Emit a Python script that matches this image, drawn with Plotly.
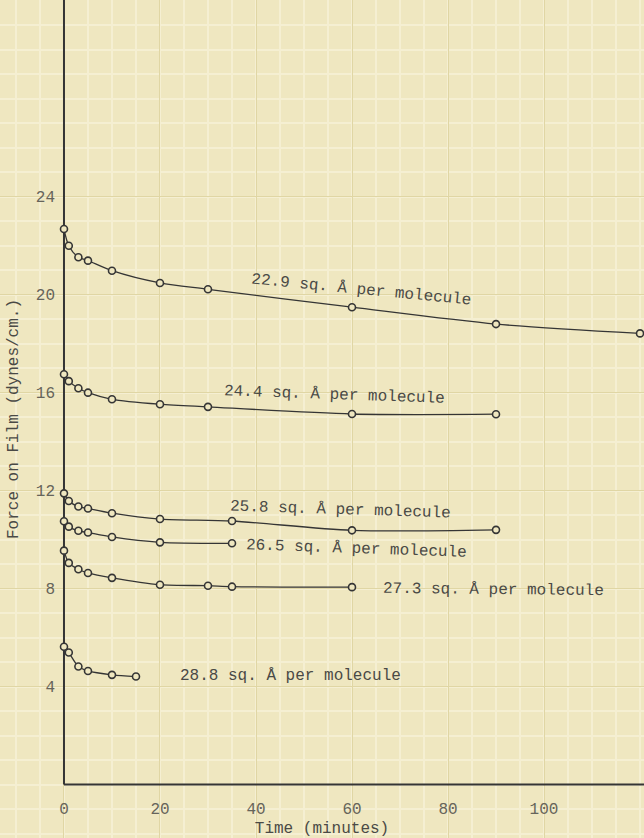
import plotly.graph_objects as go

# ---- data ----
time_229 = [0, 1, 3, 5, 10, 20, 30, 60, 90, 120]
force_229 = [22.68, 22.0, 21.53, 21.39, 20.98, 20.48, 20.22, 19.49, 18.80, 18.42]

time_244 = [0, 1, 3, 5, 10, 20, 30, 60, 90]
force_244 = [16.75, 16.47, 16.18, 16.00, 15.73, 15.53, 15.42, 15.13, 15.12]

time_258 = [0, 1, 3, 5, 10, 20, 35, 60, 90]
force_258 = [11.89, 11.58, 11.35, 11.27, 11.08, 10.84, 10.76, 10.38, 10.40]

time_265 = [0, 1, 3, 5, 10, 20, 35]
force_265 = [10.75, 10.53, 10.36, 10.29, 10.11, 9.89, 9.85]

time_273 = [0, 1, 3, 5, 10, 20, 30, 35, 60]
force_273 = [9.55, 9.05, 8.79, 8.64, 8.44, 8.16, 8.12, 8.08, 8.06]

time_288 = [0, 1, 3, 5, 10, 15]
force_288 = [5.63, 5.39, 4.82, 4.64, 4.48, 4.41]

series_labels = [
    "22.9 sq. Å per molecule",
    "24.4 sq. Å per molecule",
    "25.8 sq. Å per molecule",
    "26.5 sq. Å per molecule",
    "27.3 sq. Å per molecule",
    "28.8 sq. Å per molecule",
]

x_ticks = [0, 20, 40, 60, 80, 100]
x_tick_labels = ["0", "20", "40", "60", "80", "100"]
y_ticks = [4, 8, 12, 16, 20, 24]
y_tick_labels = ["4", "8", "12", "16", "20", "24"]

x_title = "Time (minutes)"
y_title = "Force on Film (dynes/cm.)"

# ---- styling ----
BG = "#efe7c0"
MINOR = "#f5efd2"
MAJOR = "#e0d6a4"
INK = "#353535"
TEXT = "#4a4a46"
TICK = "#66645a"
MONO = "Liberation Mono, Courier New, monospace"

series = [
    (time_229, force_229),
    (time_244, force_244),
    (time_258, force_258),
    (time_265, force_265),
    (time_273, force_273),
    (time_288, force_288),
]

# label placement (x in minutes, y in dynes/cm) and tilt of the typed text
label_pos = [(61.9, 20.2), (56.4, 15.9), (57.5, 11.2), (61.0, 9.62), (89.4, 7.95), (47.1, 4.43)]
label_tilt = [5.5, 2.0, 1.8, 2.0, 0.6, 0.0]

fig = go.Figure()
for (t, f), name in zip(series, series_labels):
    fig.add_trace(go.Scatter(
        x=t, y=f, mode="lines+markers", name=name,
        line=dict(color=INK, width=1.3, shape="spline", smoothing=0.8),
        marker=dict(symbol="circle", size=7, color=BG, line=dict(color=INK, width=1.6)),
        cliponaxis=False,
    ))

for name, (lx, ly), ang in zip(series_labels, label_pos, label_tilt):
    fig.add_annotation(x=lx, y=ly, xref="x", yref="y", text=name, showarrow=False,
                       textangle=ang, font=dict(family=MONO, size=16, color=TEXT))

X_MIN, X_MAX = -13.33, 120.83
Y_MIN, Y_MAX = -2.18, 32.03

# axis lines (only in the positive quadrant, as drawn on the sheet)
fig.add_shape(type="line", x0=0, x1=0, y0=0, y1=Y_MAX + 1, xref="x", yref="y",
              line=dict(color=INK, width=2), layer="between")
fig.add_shape(type="line", x0=0, x1=X_MAX + 1, y0=0, y1=0, xref="x", yref="y",
              line=dict(color=INK, width=2), layer="between")

fig.update_layout(
    width=644, height=838,
    margin=dict(l=0, r=0, t=0, b=0),
    paper_bgcolor=BG, plot_bgcolor=BG,
    showlegend=False,
    font=dict(family=MONO, color=TEXT),
)

fig.update_xaxes(
    range=[X_MIN, X_MAX], domain=[0, 1],
    anchor="free", position=(838 - 784.7) / 838,
    tickmode="array", tickvals=x_ticks, ticktext=x_tick_labels,
    ticks="", ticklabelstandoff=12,
    tickfont=dict(family=MONO, size=16, color=TICK),
    showgrid=True, gridcolor=MAJOR, gridwidth=1,
    minor=dict(tick0=0, dtick=5, showgrid=True, gridcolor=MINOR, gridwidth=1.6),
    zeroline=False, showline=False, automargin=False,
    title=dict(text=x_title, font=dict(family=MONO, size=16, color=TEXT), standoff=5),
)
fig.update_yaxes(
    range=[Y_MIN, Y_MAX], domain=[0, 1],
    anchor="free", position=64 / 644,
    tickmode="array", tickvals=y_ticks, ticktext=y_tick_labels,
    ticks="", ticklabelstandoff=9,
    tickfont=dict(family=MONO, size=16, color=TICK),
    showgrid=True, gridcolor=MAJOR, gridwidth=1,
    minor=dict(tick0=0, dtick=1, showgrid=True, gridcolor=MINOR, gridwidth=1.6),
    zeroline=False, showline=False, automargin=False,
    title=dict(text=y_title, font=dict(family=MONO, size=16, color=TEXT), standoff=12),
)

fig.write_html(
    "out.html",
    config={"displayModeBar": False},
    post_script="document.body.style.margin='0';document.body.style.background='" + BG + "';",
)
